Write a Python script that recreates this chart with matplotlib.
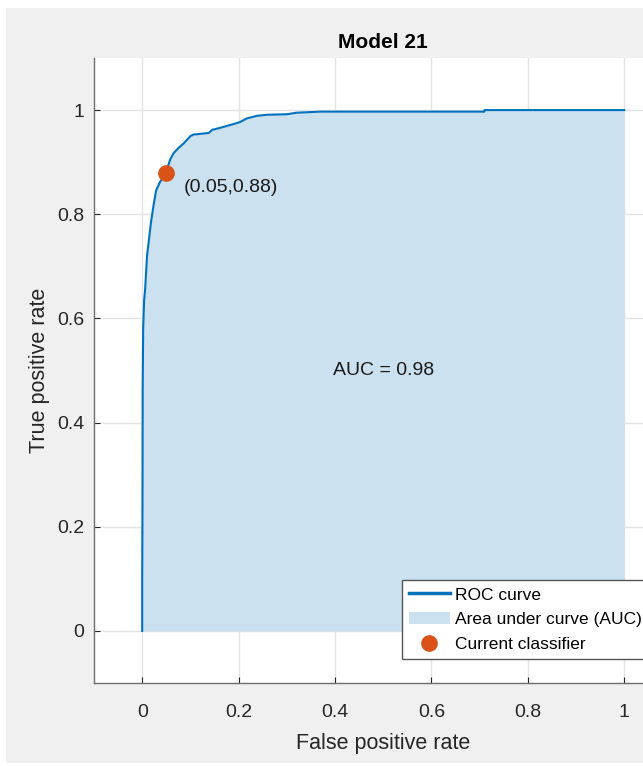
import matplotlib
matplotlib.use('Agg')
import matplotlib.pyplot as plt
from matplotlib.patches import Rectangle

# ROC curve
fpr = [0.0, 0.0, 0.0006, 0.001, 0.002, 0.004, 0.006, 0.010, 0.018, 0.024, 0.029,
       0.037, 0.044, 0.050, 0.058, 0.065, 0.075, 0.086, 0.100, 0.106, 0.138,
       0.145, 0.162, 0.189, 0.203, 0.217, 0.238, 0.259, 0.300, 0.321, 0.369,
       0.425, 0.500, 0.710, 0.710, 1.0]
tpr = [0.0, 0.10, 0.24, 0.46, 0.58, 0.635, 0.655, 0.72, 0.783, 0.82, 0.846,
       0.862, 0.872, 0.882, 0.905, 0.917, 0.927, 0.936, 0.950, 0.953, 0.956,
       0.962, 0.966, 0.973, 0.977, 0.984, 0.989, 0.991, 0.992, 0.995, 0.997,
       0.997, 0.997, 0.997, 1.0, 1.0]
current_point = (0.05, 0.88)
auc_value = 0.98
ticks = [0, 0.2, 0.4, 0.6, 0.8, 1]
tick_labels = ['0', '0.2', '0.4', '0.6', '0.8', '1']

plt.rcParams['font.family'] = ['Liberation Sans', 'DejaVu Sans']

fig = plt.figure(figsize=(6.43, 7.66), dpi=100, facecolor='white')
# gray figure background with thin white border
fig.patches.append(Rectangle((6 / 643, 3 / 766), 637 / 643, 755 / 766,
                             transform=fig.transFigure, facecolor='#F0F0F0',
                             edgecolor='none', zorder=-10))

ax = fig.add_axes([94 / 643, 83 / 766, 578.4 / 643, 625 / 766])
ax.set_facecolor('white')

fill = ax.fill_between(fpr, tpr, 0, color='#CBE1F0', linewidth=0, zorder=2,
                       label='Area under curve (AUC)')
line, = ax.plot(fpr, tpr, color='#0072BD', linewidth=1.5, zorder=3, label='ROC curve')
pt, = ax.plot([current_point[0]], [current_point[1]], 'o', color='#D95319',
              markersize=11, zorder=4, linestyle='none', label='Current classifier')

ax.text(0.087, 0.852, '(%.2f,%.2f)' % current_point, fontsize=14,
        color='#1A1A1A', va='center', ha='left', zorder=5)
ax.text(0.5, 0.5, 'AUC = %.2f' % auc_value, fontsize=14, color='#1A1A1A',
        va='center', ha='center', zorder=5)

ax.set_xlim(-0.1, 1.1)
ax.set_ylim(-0.1, 1.1)
ax.set_xticks(ticks)
ax.set_xticklabels(tick_labels)
ax.set_yticks(ticks)
ax.set_yticklabels(tick_labels)
ax.grid(True, color='#E3E3E3', linewidth=1, zorder=0)
ax.set_axisbelow(True)

ax.spines['top'].set_visible(False)
ax.spines['right'].set_visible(False)
for s in ['left', 'bottom']:
    ax.spines[s].set_color('#6E6E6E')
    ax.spines[s].set_linewidth(1.0)
ax.tick_params(axis='both', direction='in', length=4, color='#262626',
               labelsize=14, labelcolor='#262626')
ax.tick_params(axis='x', pad=15)
ax.tick_params(axis='y', pad=7)

ax.set_xlabel('False positive rate', fontsize=15.5, color='#262626', labelpad=9)
ax.set_ylabel('True positive rate', fontsize=15.5, color='#262626', labelpad=5)
ax.set_title('Model 21', fontsize=15, fontweight='bold', color='black', pad=7)

leg = ax.legend(handles=[line, fill, pt], loc='lower left',
                bbox_to_anchor=(0.532, 0.038), borderaxespad=0, fontsize=12.5,
                frameon=True, fancybox=False, framealpha=1, edgecolor='#555555',
                handlelength=2.4, handletextpad=0.25, labelspacing=0.56,
                borderpad=0.4)
leg.get_frame().set_linewidth(1.0)
leg.legend_handles[0].set_linewidth(2.5)

fig.savefig('out.png', dpi=100, facecolor=fig.get_facecolor())
